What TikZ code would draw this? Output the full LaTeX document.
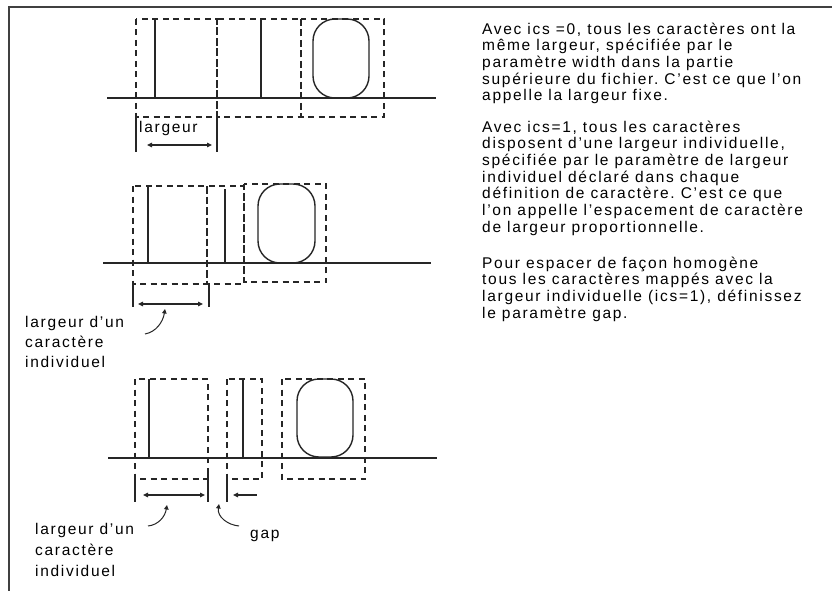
\documentclass[tikz,border=0pt]{standalone}
\usepackage{fontspec}
\setmainfont{Liberation Sans}[LetterSpace=11]
\usetikzlibrary{arrows.meta}
\frenchspacing
\begin{document}
\begin{tikzpicture}[x=1pt,y=-1pt,
  dbox/.style={draw=black!85, dash pattern=on 6pt off 4.5pt, line width=1.1pt},
  glyph/.style={draw=black!85, line width=1.4pt},
  baseln/.style={draw=black!85, line width=1.4pt},
  tick/.style={draw=black!85, line width=1.3pt},
  dimarrow/.style={draw=black!85, line width=1.1pt, {Triangle[length=5pt,width=4.5pt]}-{Triangle[length=5pt,width=4.5pt]}},
  onearrow/.style={draw=black!85, line width=1.1pt, {Triangle[length=5pt,width=4.5pt]}-},
  leader/.style={draw=black!85, line width=1pt, {Triangle[length=4.5pt,width=4.5pt]}-},
  para/.style={font=\fontsize{15.5}{16.7}\selectfont, inner sep=0pt, align=left, anchor=north west},
  lbl/.style={font=\fontsize{15.5}{20}\selectfont, inner sep=0pt, align=left, anchor=north west},
  word/.style={font=\fontsize{15.5}{18}\selectfont, inner sep=0pt, anchor=base west}
]
\useasboundingbox (0,0) rectangle (832,591);
\fill[white] (0,0) rectangle (832,591);
% frame
\draw[line width=1.8pt, black!75] (9,591) -- (9,7) -- (832,7);

% ================= top diagram =================
\draw[baseln] (107,98) -- (436,98);
\draw[dbox] (136,19) rectangle (217,117);
\draw[dbox] (217,19) rectangle (301,117);
\draw[dbox] (301,19) rectangle (384,117);
\draw[glyph] (155,19) -- (155,98);
\draw[glyph] (261,19) -- (261,98);
\draw[glyph, rounded corners=22pt] (313,19) rectangle (369,98);
\draw[tick] (136,113) -- (136,152);
\draw[tick] (217,113) -- (217,152);
\coordinate (t1a) at (147,145);
\coordinate (t1b) at (212,145);
\draw[dimarrow] (t1a) -- (t1b);
\node[word] (lt) at (139,132) {largeur};

% ================= middle diagram =================
\draw[baseln] (103,263) -- (431,263);
\draw[dbox] (133,186) rectangle (207,284);
\draw[dbox] (207,186) rectangle (244,284);
\draw[dbox] (244,184) rectangle (326,282);
\draw[glyph] (148,186) -- (148,263);
\draw[glyph] (225,189) -- (225,263);
\draw[glyph, rounded corners=22pt] (258,184) rectangle (315,263);
\draw[tick] (133,285) -- (133,307);
\draw[tick] (209,285) -- (209,307);
\coordinate (m1a) at (138,304);
\coordinate (m1b) at (203,304);
\draw[dimarrow] (m1a) -- (m1b);
\coordinate (mtip) at (165,309);
\coordinate (mend) at (145,334);
\draw[leader] (mtip) .. controls (163,322) and (156,332) .. (mend);
\node[lbl] (lm) at (25,316.5) {largeur d'un\\caractère\\individuel};

% ================= bottom diagram =================
\draw[baseln] (108,458) -- (437,458);
\draw[dbox] (135,379) rectangle (208,479);
\draw[dbox] (227,379) rectangle (262,479);
\draw[dbox] (282,379) rectangle (365,479);
\draw[glyph] (149,379) -- (149,458);
\draw[glyph] (243,379) -- (243,458);
\draw[glyph, rounded corners=22pt] (297,379) rectangle (353,457);
\draw[tick] (135,480) -- (135,502);
\draw[tick] (208,472) -- (208,502);
\draw[tick] (227,480) -- (227,502);
\coordinate (b1a) at (143,495);
\coordinate (b1b) at (205,495);
\draw[dimarrow] (b1a) -- (b1b);
\coordinate (g1a) at (233,495);
\coordinate (g1b) at (257,495);
\draw[onearrow] (g1a) -- (g1b);
\coordinate (btip) at (167,505);
\coordinate (bend) at (148,526);
\draw[leader] (btip) .. controls (165,517) and (158,525) .. (bend);
\coordinate (gtip) at (219,504);
\coordinate (gend) at (239,526);
\draw[leader] (gtip) .. controls (217,517) and (228,525) .. (gend);
\node[word] (lg) at (250,538) {gap};
\node[lbl, font=\fontsize{15.5}{21}\selectfont] (lb) at (35,523.3) {largeur d'un\\caractère\\individuel};

% ================= text =================
\node[para] (p1) at (482,22.2) {\strut Avec ics =0, tous les caractères ont la\\même largeur, spécifiée par le\\paramètre width dans la partie\\supérieure du fichier. C'est ce que l'on\\appelle la largeur fixe.};
\node[para] (p2) at (482,120.3) {\strut Avec ics=1, tous les caractères\\disposent d'une largeur individuelle,\\spécifiée par le paramètre de largeur\\individuel déclaré dans chaque\\définition de caractère. C'est ce que\\l'on appelle l'espacement de caractère\\de largeur proportionnelle.};
\node[para] (p3) at (482,256.3) {\strut Pour espacer de façon homogène\\tous les caractères mappés avec la\\largeur individuelle (ics=1), définissez\\le paramètre gap.};
\end{tikzpicture}
\end{document}
